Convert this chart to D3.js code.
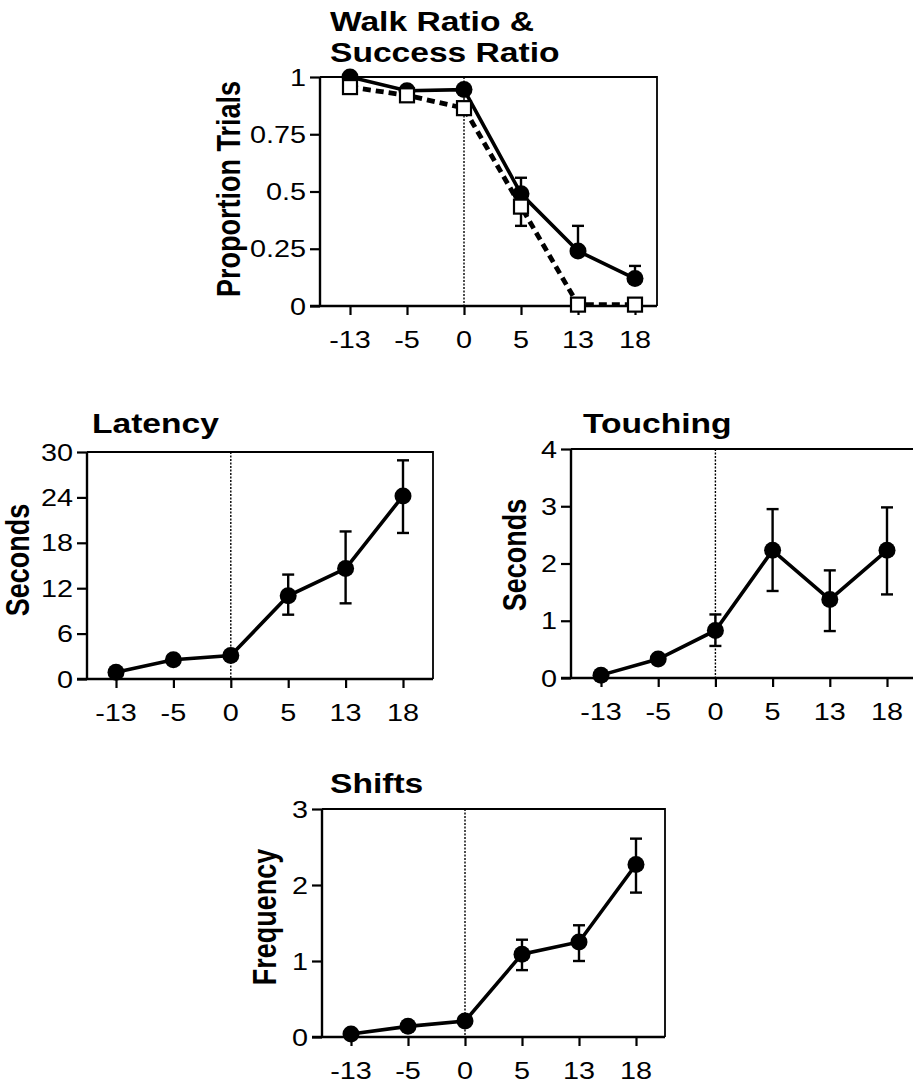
<!DOCTYPE html>
<html><head><meta charset="utf-8">
<script src="https://cdn.jsdelivr.net/npm/d3@7"></script>
<style>body{margin:0;background:#fff}svg{display:block}</style>
</head><body>
<svg id="c" width="913" height="1083"></svg>
<script>
// ---- data ----
const categories = ["-13", "-5", "0", "5", "13", "18"];

const walkRatio      = [1.0, 0.94, 0.945, 0.49, 0.24, 0.12];
const walkErrHigh    = [null, null, null, 0.56, 0.35, 0.175];
const successRatio   = [0.956, 0.92, 0.864, 0.434, 0.006, 0.006];
const successErrLow  = [null, null, null, 0.35, null, null];

const latency        = [0.9, 2.55, 3.1, 11.0, 14.6, 24.2];
const latencyErrHigh = [null, null, null, 13.8, 19.5, 28.9];
const latencyErrLow  = [null, null, null, 8.5, 10.0, 19.3];

const touching        = [0.05, 0.33, 0.83, 2.23, 1.37, 2.23];
const touchingErrHigh = [null, null, 1.11, 2.95, 1.88, 2.98];
const touchingErrLow  = [null, null, 0.56, 1.52, 0.82, 1.46];

const shifts        = [0.04, 0.14, 0.21, 1.09, 1.25, 2.27];
const shiftsErrHigh = [null, null, null, 1.28, 1.47, 2.61];
const shiftsErrLow  = [null, null, null, 0.88, 1.0, 1.9];

const walkTicks = [0, 0.25, 0.5, 0.75, 1];
const walkTickLabels = ["0", "0.25", "0.5", "0.75", "1"];
const latencyTicks = [0, 6, 12, 18, 24, 30];
const touchingTicks = [0, 1, 2, 3, 4];
const shiftsTicks = [0, 1, 2, 3];

// ---- drawing ----
const svg = d3.select("#c");
const FONT = "'Liberation Sans', Arial, Helvetica, sans-serif";
const SX = 1.2; // horizontal stretch of the scanned figure

function htext(x, y, str, size, weight, anchor) {
  return svg.append("text")
    .attr("transform", `translate(${x},${y}) scale(${SX},1)`)
    .attr("font-family", FONT).attr("font-size", size)
    .attr("font-weight", weight).attr("text-anchor", anchor)
    .attr("fill", "#000").text(str);
}

function panel(cfg) {
  const x = d3.scalePoint().domain(categories).range(cfg.xRange);
  const y = d3.scaleLinear().domain(cfg.yDomain).range([cfg.bottom, cfg.top]);
  const g = svg.append("g");

  // frame top + right (thinner)
  g.append("path")
    .attr("d", `M${cfg.left},${cfg.top}H${cfg.right}V${cfg.bottom}`)
    .attr("fill", "none").attr("stroke", "#000").attr("stroke-width", 1.8);

  // y axis
  const yAxis = d3.axisLeft(y).tickValues(cfg.ticks).tickSize(10).tickFormat("");
  const ya = g.append("g").attr("transform", `translate(${cfg.left},0)`).call(yAxis);
  ya.select(".domain").attr("d", `M0,${cfg.top}V${cfg.bottom}`).attr("stroke-width", 2.4);
  ya.selectAll(".tick line").attr("stroke-width", 2.2);
  cfg.ticks.forEach((t, i) => {
    htext(cfg.left - 14, y(t), cfg.tickLabels ? cfg.tickLabels[i] : String(t), 24, "normal", "end")
      .attr("dy", "0.36em");
  });

  // x axis
  const xAxis = d3.axisBottom(x).tickSize(9).tickFormat("");
  const xa = g.append("g").attr("transform", `translate(0,${cfg.bottom})`).call(xAxis);
  xa.select(".domain").attr("d", `M${cfg.left - 10},0H${cfg.right}`).attr("stroke-width", 2.4);
  xa.selectAll(".tick line").attr("stroke-width", 2.2);
  categories.forEach(c => {
    htext(x(c), cfg.bottom + 42, c, 24, "normal", "middle");
  });

  // dotted vertical line at 0
  g.append("line")
    .attr("x1", x("0")).attr("x2", x("0"))
    .attr("y1", cfg.top).attr("y2", cfg.bottom)
    .attr("stroke", "#000").attr("stroke-width", 1.4).attr("stroke-dasharray", "2,1.5");

  // title
  cfg.title.forEach((t, i) => htext(cfg.titleX, cfg.titleY + i * 31, t, 28, "bold", "start"));

  // y label
  svg.append("text")
    .attr("transform", `translate(${cfg.yLabelX},${cfg.yLabelY}) scale(${SX},1) rotate(-90)`)
    .attr("font-family", FONT).attr("font-size", 27).attr("font-weight", "bold")
    .attr("text-anchor", "middle").attr("dy", "0.35em").text(cfg.yLabel);

  return { x, y, g };
}

function errorBars(p, vals, lo, hi) {
  categories.forEach((c, i) => {
    [lo, hi].forEach(arr => {
      if (!arr || arr[i] == null) return;
      p.g.append("line").attr("x1", p.x(c)).attr("x2", p.x(c))
        .attr("y1", p.y(vals[i])).attr("y2", p.y(arr[i]))
        .attr("stroke", "#000").attr("stroke-width", 2.4);
      p.g.append("line").attr("x1", p.x(c) - 6).attr("x2", p.x(c) + 6)
        .attr("y1", p.y(arr[i])).attr("y2", p.y(arr[i]))
        .attr("stroke", "#000").attr("stroke-width", 2.4);
    });
  });
}

function lineSeries(p, vals, dash) {
  const line = d3.line().x((d, i) => p.x(categories[i])).y(d => p.y(d));
  p.g.append("path").attr("d", line(vals)).attr("fill", "none")
    .attr("stroke", "#000").attr("stroke-width", dash ? 4.8 : 3.6)
    .attr("stroke-dasharray", dash ? "8,5" : null);
}

function circles(p, vals) {
  p.g.selectAll(null).data(vals).enter().append("circle")
    .attr("cx", (d, i) => p.x(categories[i])).attr("cy", d => p.y(d))
    .attr("r", 8.5).attr("fill", "#000");
}

function squares(p, vals) {
  p.g.selectAll(null).data(vals).enter().append("rect")
    .attr("x", (d, i) => p.x(categories[i]) - 7).attr("y", d => p.y(d) - 7)
    .attr("width", 14).attr("height", 14)
    .attr("fill", "#fff").attr("stroke", "#000").attr("stroke-width", 2.2);
}

// Walk Ratio & Success Ratio
const p1 = panel({
  left: 320, right: 657, top: 77, bottom: 306, xRange: [350, 635],
  yDomain: [0, 1], ticks: walkTicks, tickLabels: walkTickLabels,
  title: ["Walk Ratio &", "Success Ratio"], titleX: 330, titleY: 31,
  yLabel: "Proportion Trials", yLabelX: 229, yLabelY: 189
});
errorBars(p1, walkRatio, null, walkErrHigh);
errorBars(p1, successRatio, successErrLow, null);
lineSeries(p1, walkRatio, false);
lineSeries(p1, successRatio, true);
circles(p1, walkRatio);
squares(p1, successRatio);

// Latency
const p2 = panel({
  left: 87, right: 433, top: 452, bottom: 679, xRange: [116, 403],
  yDomain: [0, 30], ticks: latencyTicks,
  title: ["Latency"], titleX: 92, titleY: 433,
  yLabel: "Seconds", yLabelX: 18, yLabelY: 560
});
errorBars(p2, latency, latencyErrLow, latencyErrHigh);
lineSeries(p2, latency, false);
circles(p2, latency);

// Touching
const p3 = panel({
  left: 571, right: 930, top: 449, bottom: 678, xRange: [601, 887],
  yDomain: [0, 4], ticks: touchingTicks,
  title: ["Touching"], titleX: 583, titleY: 433,
  yLabel: "Seconds", yLabelX: 515, yLabelY: 555
});
errorBars(p3, touching, touchingErrLow, touchingErrHigh);
lineSeries(p3, touching, false);
circles(p3, touching);

// Shifts
const p4 = panel({
  left: 322, right: 665, top: 809, bottom: 1037, xRange: [351, 636],
  yDomain: [0, 3], ticks: shiftsTicks,
  title: ["Shifts"], titleX: 330, titleY: 793,
  yLabel: "Frequency", yLabelX: 265, yLabelY: 917
});
errorBars(p4, shifts, shiftsErrLow, shiftsErrHigh);
lineSeries(p4, shifts, false);
circles(p4, shifts);
</script>
</body></html>
